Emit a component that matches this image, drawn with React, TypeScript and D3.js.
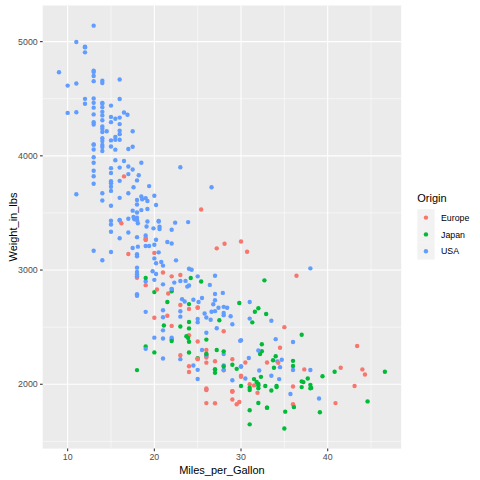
import React from "react";
import * as d3 from "d3";

// Origin codes: 1 = USA, 2 = Europe, 3 = Japan (data order preserved)
const mpg = [
  18,15,18,16,17,15,14,14,14,15,
  15,14,15,14,24,22,18,21,27,26,
  25,24,25,26,21,10,10,11,9,27,
  28,25,25,19,16,17,19,18,14,14,
  14,14,12,13,13,18,22,19,18,23,
  28,30,30,31,35,27,26,24,25,23,
  20,21,13,14,15,14,17,11,13,12,
  13,19,15,13,13,14,18,22,21,26,
  22,28,23,28,27,13,14,13,14,15,
  12,13,13,14,13,12,13,18,16,18,
  18,23,26,11,12,13,12,18,20,21,
  22,18,19,21,26,15,16,29,24,20,
  19,15,24,20,11,20,21,19,15,31,
  26,32,25,16,16,18,16,13,14,14,
  14,29,26,26,31,32,28,24,26,24,
  26,31,19,18,15,15,16,15,16,14,
  17,16,15,18,21,20,13,29,23,20,
  23,24,25,24,18,29,19,23,23,22,
  25,33,28,25,25,26,27,17.5,16,15.5,
  14.5,22,22,24,22.5,29,24.5,29,33,20,
  18,18.5,17.5,29.5,32,28,26.5,20,13,19,
  19,16.5,16.5,13,13,13,31.5,30,36,25.5,
  33.5,17.5,17,15.5,15,17.5,20.5,19,18.5,16,
  15.5,15.5,16,29,24.5,26,25.5,30.5,33.5,30,
  30.5,22,21.5,21.5,43.1,36.1,32.8,39.4,36.1,19.9,
  19.4,20.2,19.2,20.5,20.2,25.1,20.5,19.4,20.6,20.8,
  18.6,18.1,19.2,17.7,18.1,17.5,30,27.5,27.2,30.9,
  21.1,23.2,23.8,23.9,20.3,17,21.6,16.2,31.5,29.5,
  21.5,19.8,22.3,20.2,20.6,17,17.6,16.5,18.2,16.9,
  15.5,19.2,18.5,31.9,34.1,35.7,27.4,25.4,23,27.2,
  23.9,34.2,34.5,31.8,37.3,28.4,28.8,26.8,33.5,41.5,
  38.1,32.1,37.2,28,26.4,24.3,19.1,34.3,29.8,31.3,
  37,32.2,46.6,27.9,40.8,44.3,43.4,36.4,30,44.6,
  40.9,33.8,29.8,32.7,23.7,35,23.6,32.4,27.2,26.6,
  25.8,23.5,30,39.1,39,35.1,32.3,37,37.7,34.1,
  34.7,34.4,29.9,33,34.5,33.7,32.4,32.9,31.6,28.1,
  30.7,25.4,24.2,22.4,26.6,20.2,17.6,28,27,34,
  31,29,27,24,36,37,31,38,36,36,
  36,34,38,32,38,25,38,26,22,32,
  36,27,27,44,32,28,31,
];

const weight = [
  3504,3693,3436,3433,3449,4341,4354,4312,4425,3850,
  3563,3609,3761,3086,2372,2833,2774,2587,2130,1835,
  2672,2430,2375,2234,2648,4615,4376,4382,4732,2130,
  2264,2228,2046,2634,3439,3329,3302,3288,4209,4464,
  4154,4096,4955,4746,5140,2962,2408,3282,3139,2220,
  2123,2074,2065,1773,1613,1834,1955,2278,2126,2254,
  2408,2226,4274,4385,4135,4129,3672,4633,4502,4456,
  4422,2330,3892,4098,4294,4077,2933,2511,2979,2189,
  2395,2288,2506,2164,2100,4100,3672,3988,4042,3777,
  4952,4464,4363,4237,4735,4951,3821,3121,3278,2945,
  3021,2904,1950,4997,4906,4654,4499,2789,2279,2401,
  2379,2124,2310,2472,2265,4082,4278,1867,2158,2582,
  2868,3399,2660,2807,3664,3102,2875,2901,3336,1950,
  2451,1836,2542,3781,3632,3613,4141,4699,4457,4638,
  4257,2219,1963,2300,1649,2003,2125,2108,2246,2489,
  2391,2000,3264,3459,3432,3158,4668,4440,4498,4657,
  3907,3897,3730,3785,3039,3221,3169,2171,2639,2914,
  2592,2702,2223,2545,2984,1937,3211,2694,2957,2945,
  2671,1795,2464,2220,2572,2255,2202,4215,4190,3962,
  4215,3233,3353,3012,3085,2035,2164,1937,1795,3651,
  3574,3645,3193,1825,1990,2155,2565,3150,3940,3270,
  2930,3820,4380,4055,3870,3755,2045,2155,1825,2300,
  1945,3880,4060,4140,4295,3520,3425,3630,3525,4220,
  4165,4325,4335,1940,2740,2265,2755,2051,2075,1985,
  2190,2815,2600,2720,1985,1800,1985,2070,1800,3365,
  3735,3570,3535,3155,2965,2720,3430,3210,3380,3070,
  3620,3410,3425,3445,3205,4080,2155,2560,2300,2230,
  2515,2745,2855,2405,2830,3140,2795,3410,1990,2135,
  3245,2990,2890,3265,3360,3840,3725,3955,3830,4360,
  4054,3605,3940,1925,1975,1915,2670,3530,3900,3190,
  3420,2200,2150,2020,2130,2670,2595,2700,2556,2144,
  1968,2120,2019,2678,2870,3003,3381,2188,2711,2542,
  2434,2265,2110,2800,2110,2085,2335,2950,3250,1850,
  1835,2145,1845,2910,2420,2500,2905,2290,2490,2635,
  2620,2725,2385,1755,1875,1760,2065,1975,2050,1985,
  2215,2045,2380,2190,2320,2210,2350,2615,2635,3230,
  3160,2900,2930,3415,3725,3060,3465,2605,2640,2395,
  2575,2525,2735,2865,1980,2025,1970,2125,2125,2160,
  2205,2245,1965,1965,1995,2945,3015,2585,2835,2665,
  2370,2950,2790,2130,2295,2625,2720,
];

const originCode = [
  1,1,1,1,1,1,1,1,1,1,
  1,1,1,1,3,1,1,1,3,2,
  2,2,2,2,1,1,1,1,1,3,
  1,3,1,1,1,1,1,1,1,1,
  1,1,1,1,1,1,1,1,1,1,
  2,2,2,3,3,2,1,3,1,2,
  1,1,1,1,1,1,1,1,1,1,
  1,3,1,1,1,1,2,2,2,2,
  1,3,3,1,3,1,1,1,1,1,
  1,1,1,1,1,1,1,1,1,1,
  1,1,2,1,1,1,1,1,3,1,
  3,3,1,1,2,1,1,2,2,2,
  2,1,2,3,1,1,1,1,1,3,
  1,3,1,1,1,1,1,1,1,1,
  1,2,2,2,3,3,1,2,2,3,
  3,2,1,1,1,1,1,1,1,1,
  1,1,1,1,1,1,1,3,1,1,
  1,3,2,3,1,2,1,2,2,2,
  2,3,2,2,1,1,2,1,1,1,
  1,1,1,1,1,1,1,2,3,1,
  1,1,1,2,3,3,1,2,1,2,
  3,2,1,1,1,1,3,1,2,1,
  3,1,1,1,1,1,1,1,1,1,
  1,1,1,2,1,3,1,1,1,3,
  2,3,2,3,2,1,3,3,3,1,
  1,1,1,1,1,1,1,1,1,1,
  1,1,1,1,1,1,1,3,3,1,
  3,1,1,3,2,2,2,2,2,3,
  1,1,1,1,1,1,1,1,1,1,
  1,1,1,2,3,1,1,2,1,2,
  1,1,1,3,2,1,1,1,1,2,
  3,1,3,1,1,1,1,2,3,3,
  3,3,3,1,3,2,2,2,2,3,
  2,3,2,3,3,2,1,3,1,1,
  1,1,1,3,1,3,3,3,3,3,
  1,1,1,2,2,3,3,3,3,2,
  2,3,3,1,1,1,1,1,1,1,
  1,1,1,1,2,3,3,1,1,3,
  3,3,3,3,3,1,1,1,1,3,
  1,1,1,2,1,1,1,
];

const originNames: Record<number, string> = { 1: "USA", 2: "Europe", 3: "Japan" };
const legendOrder = ["Europe", "Japan", "USA"];
const palette = ["#F8766D", "#00BA38", "#619CFF"];

const xMajor = [10, 20, 30, 40];
const xMinor = [15, 25, 35, 45];
const yMajor = [2000, 3000, 4000, 5000];
const yMinor = [1500, 2500, 3500, 4500];

const W = 480, H = 480;
const panel = { left: 42.7, right: 401.2, top: 5.5, bottom: 448.6 };
const FONT = "'Liberation Sans', Arial, Helvetica, sans-serif";

export default function App() {
  const xExt = d3.extent(mpg) as [number, number];
  const yExt = d3.extent(weight) as [number, number];
  const xPad = (xExt[1] - xExt[0]) * 0.05;
  const yPad = (yExt[1] - yExt[0]) * 0.05;
  const x = d3.scaleLinear().domain([xExt[0] - xPad, xExt[1] + xPad]).range([panel.left, panel.right]);
  const y = d3.scaleLinear().domain([yExt[0] - yPad, yExt[1] + yPad]).range([panel.bottom, panel.top]);
  const color = d3.scaleOrdinal<string, string>().domain(legendOrder).range(palette);

  const points = mpg.map((m, i) => ({ m, w: weight[i], o: originNames[originCode[i]] }));
  const legendTop = 209.2;
  const keySize = 16.8;

  return (
    <svg width={W} height={H} style={{ position: "absolute", left: 0, top: 0 }}>
      <rect width={W} height={H} fill="#FFFFFF" />
      <rect x={panel.left} y={panel.top} width={panel.right - panel.left} height={panel.bottom - panel.top} fill="#EBEBEB" />
      {xMinor.filter(v => x(v) <= panel.right).map(v => (
        <line key={"xm" + v} x1={x(v)} x2={x(v)} y1={panel.top} y2={panel.bottom} stroke="#FFFFFF" strokeWidth={0.53} />
      ))}
      {yMinor.filter(v => y(v) <= panel.bottom && y(v) >= panel.top).map(v => (
        <line key={"ym" + v} x1={panel.left} x2={panel.right} y1={y(v)} y2={y(v)} stroke="#FFFFFF" strokeWidth={0.53} />
      ))}
      {xMajor.map(v => (
        <line key={"xM" + v} x1={x(v)} x2={x(v)} y1={panel.top} y2={panel.bottom} stroke="#FFFFFF" strokeWidth={1.07} />
      ))}
      {yMajor.map(v => (
        <line key={"yM" + v} x1={panel.left} x2={panel.right} y1={y(v)} y2={y(v)} stroke="#FFFFFF" strokeWidth={1.07} />
      ))}
      {points.map((p, i) => (
        <circle key={i} cx={x(p.m)} cy={y(p.w)} r={2.2} fill={color(p.o)} />
      ))}
      {xMajor.map(v => (
        <g key={"xt" + v}>
          <line x1={x(v)} x2={x(v)} y1={panel.bottom} y2={panel.bottom + 2.75} stroke="#333333" strokeWidth={1.07} />
          <text x={x(v)} y={panel.bottom + 11.6} textAnchor="middle" fontFamily={FONT} fontSize={8.8} fill="#4D4D4D">{v}</text>
        </g>
      ))}
      {yMajor.map(v => (
        <g key={"yt" + v}>
          <line x1={panel.left - 2.75} x2={panel.left} y1={y(v)} y2={y(v)} stroke="#333333" strokeWidth={1.07} />
          <text x={panel.left - 5} y={y(v) + 3.1} textAnchor="end" fontFamily={FONT} fontSize={8.8} fill="#4D4D4D">{v}</text>
        </g>
      ))}
      <text x={(panel.left + panel.right) / 2} y={473.5} textAnchor="middle" fontFamily={FONT} fontSize={11} fill="#000000">Miles_per_Gallon</text>
      <text transform={`translate(16.5, ${(panel.top + panel.bottom) / 2}) rotate(-90)`} textAnchor="middle" fontFamily={FONT} fontSize={11} fill="#000000">Weight_in_lbs</text>
      <text x={417.3} y={202} fontFamily={FONT} fontSize={11} fill="#000000">Origin</text>
      {legendOrder.map((name, i) => (
        <g key={name}>
          <rect x={417.3} y={legendTop + i * keySize} width={keySize + 0.5} height={keySize} fill="#F2F2F2" />
          <circle cx={417.3 + (keySize + 0.5) / 2} cy={legendTop + i * keySize + keySize / 2} r={2.2} fill={color(name)} />
          <text x={441} y={legendTop + i * keySize + keySize / 2 + 3.1} fontFamily={FONT} fontSize={8.8} fill="#000000">{name}</text>
        </g>
      ))}
    </svg>
  );
}
